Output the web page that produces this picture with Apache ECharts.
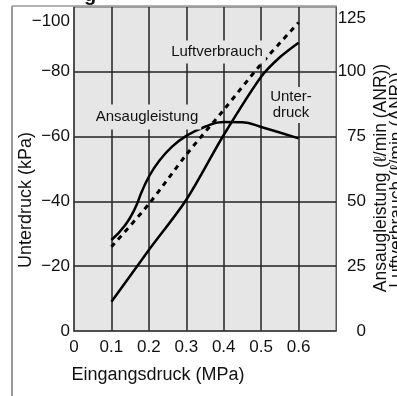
<!DOCTYPE html>
<html>
<head>
<meta charset="utf-8">
<script src="https://cdn.jsdelivr.net/npm/echarts@6/dist/echarts.min.js"></script>
<style>
html,body{margin:0;padding:0;background:#fff;}
#c{width:397px;height:396px;}
</style>
</head>
<body>
<div id="c"></div>
<script>
// X ticks (MPa)
const xTicks = [0, 0.1, 0.2, 0.3, 0.4, 0.5, 0.6];
// Unterdruck (kPa, left axis)
const unterdruckX = [0.1, 0.2, 0.3, 0.4, 0.5, 0.55, 0.6];
const unterdruckY = [-9, -25, -40.5, -60.5, -78.5, -84.5, -89];
// Ansaugleistung (l/min ANR, right axis)
const ansaugX = [0.1, 0.137, 0.163, 0.181, 0.2, 0.226, 0.262, 0.3, 0.35, 0.4, 0.45, 0.5, 0.6];
const ansaugY = [35.1, 40.9, 47.3, 53.7, 59.5, 65.3, 71.1, 75.3, 78.8, 80.6, 80.5, 78.7, 74.3];
// Luftverbrauch (l/min ANR, right axis)
const luftX = [0.1, 0.2, 0.3, 0.4, 0.5, 0.6];
const luftY = [32.5, 49, 68, 85.3, 103, 119];

const zip = (a, b) => a.map((v, i) => [v, b[i]]);
const FONT = '"Liberation Sans", Arial, Helvetica, sans-serif';

const chart = echarts.init(document.getElementById('c'));
chart.setOption({
  animation: false,
  backgroundColor: '#fff',
  grid: {left: 74, right: 61, top: 7, bottom: 65, show: true,
         backgroundColor: '#e6e6e6', borderColor: '#555', borderWidth: 1},
  xAxis: {
    type: 'value', min: 0, max: 0.7, interval: 0.1,
    axisLine: {show: true, lineStyle: {color: '#333', width: 1.5}},
    axisTick: {show: false},
    axisLabel: {
      color: '#111', fontSize: 17, fontFamily: FONT, margin: 8,
      formatter: v => {
        const t = xTicks.find(x => Math.abs(x - v) < 1e-6);
        if (t === undefined) return '';
        return t === 0 ? '0' : t.toFixed(1);
      }
    },
    splitLine: {show: true, showMinLine: false, showMaxLine: false,
                lineStyle: {color: '#222', width: 1.5}}
  },
  yAxis: [{
    type: 'value', position: 'left', min: -100, max: 0, interval: 20, inverse: true,
    axisLine: {show: true, lineStyle: {color: '#333', width: 1.5}},
    axisTick: {show: false},
    axisLabel: {
      color: '#111', fontSize: 17, fontFamily: FONT, margin: 4,
      verticalAlignMinLabel: 'top',
      formatter: v => v === -100 ? '{t|\u2212100}' : (v === 0 ? '0' : '\u2212' + Math.abs(v)),
      rich: {t: {fontSize: 17, fontFamily: FONT, color: '#111', padding: [6, 0, 0, 0]}}
    },
    splitLine: {show: true, showMinLine: false, showMaxLine: false,
                lineStyle: {color: '#222', width: 1.5}}
  }, {
    type: 'value', position: 'right', min: 0, max: 125, interval: 25,
    axisLine: {show: true, lineStyle: {color: '#555', width: 1}},
    axisTick: {show: false},
    axisLabel: {
      color: '#111', fontSize: 17, fontFamily: FONT, margin: 30, align: 'right',
      verticalAlignMaxLabel: 'top',
      formatter: v => v === 125 ? '{t|125}' : String(v),
      rich: {t: {fontSize: 17, fontFamily: FONT, color: '#111', padding: [3, 0, 0, 0]}}
    },
    splitLine: {show: false}
  }],
  series: [{
    name: 'Unterdruck', type: 'line', yAxisIndex: 0, smooth: 0.3, showSymbol: false,
    data: zip(unterdruckX, unterdruckY),
    lineStyle: {color: '#000', width: 2.5}, z: 5
  }, {
    name: 'Ansaugleistung', type: 'line', yAxisIndex: 1, smooth: 0.5, showSymbol: false,
    data: zip(ansaugX, ansaugY),
    lineStyle: {color: '#000', width: 2.5}, z: 5
  }, {
    name: 'Luftverbrauch', type: 'line', yAxisIndex: 1, smooth: 0.3, showSymbol: false,
    data: zip(luftX, luftY),
    lineStyle: {color: '#000', width: 3, type: [5, 5]}, z: 5
  }],
  graphic: [
    {type: 'line', shape: {x1: 12, y1: 6, x2: 12, y2: 396}, style: {stroke: '#999', lineWidth: 2}, z: 1},
    {type: 'line', shape: {x1: 12, y1: 6, x2: 337, y2: 6}, style: {stroke: '#999', lineWidth: 1.5}, z: 1},
    {type: 'text', x: 90, y: 5, style: {text: 'g', font: 'bold 20px ' + FONT, fill: '#111',
      textAlign: 'center', textVerticalAlign: 'bottom'}, z: 10},
    {type: 'text', x: 147, y: 117, style: {text: 'Ansaugleistung', font: '15px ' + FONT, fill: '#111',
      textAlign: 'center', textVerticalAlign: 'middle', backgroundColor: '#e6e6e6', padding: [5, 3]}, z: 10},
    {type: 'text', x: 217, y: 52, style: {text: 'Luftverbrauch', font: '15px ' + FONT, fill: '#111',
      textAlign: 'center', textVerticalAlign: 'middle', backgroundColor: '#e6e6e6', padding: [4, 3]}, z: 10},
    {type: 'text', x: 291, y: 105, style: {text: 'Unter-\ndruck', font: '15px ' + FONT, fill: '#111',
      lineHeight: 16, textAlign: 'center', textVerticalAlign: 'middle', backgroundColor: '#e6e6e6', padding: [2, 2]}, z: 10},
    {type: 'text', x: 158, y: 375, style: {text: 'Eingangsdruck (MPa)', font: '18px ' + FONT, fill: '#111',
      textAlign: 'center', textVerticalAlign: 'middle'}, z: 10},
    {type: 'text', x: 26, y: 200, rotation: Math.PI / 2, style: {text: 'Unterdruck (kPa)', font: '18px ' + FONT, fill: '#111',
      textAlign: 'center', textVerticalAlign: 'middle'}, z: 10},
    {type: 'text', x: 381, y: 178, rotation: Math.PI / 2, style: {text: 'Ansaugleistung (\u2113/min (ANR))', font: '17.5px ' + FONT, fill: '#111',
      textAlign: 'center', textVerticalAlign: 'middle'}, z: 10},
    {type: 'text', x: 397, y: 180, rotation: Math.PI / 2, style: {text: 'Luftverbrauch (\u2113/min (ANR))', font: '17.5px ' + FONT, fill: '#111',
      textAlign: 'center', textVerticalAlign: 'middle'}, z: 10}
  ]
});
</script>
</body>
</html>
